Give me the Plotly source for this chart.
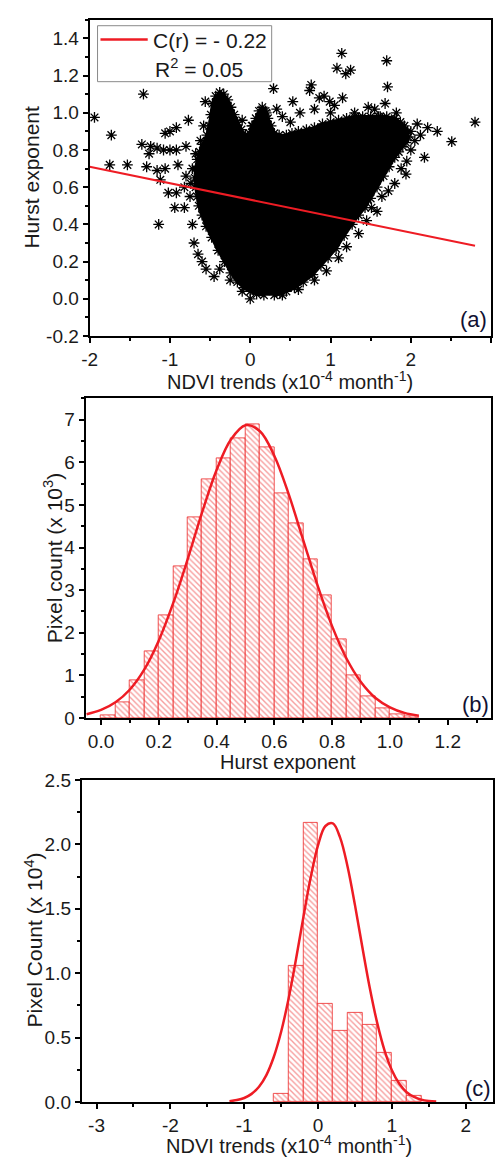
import plotly.graph_objects as go

# ---------------- Panel (a): NDVI trends vs Hurst exponent ----------------
# outline of the dense (solid black) cloud
blob_x = [0.17, 0.08, 0.0, -0.08, -0.16, -0.24, -0.32, -0.40, -0.48, -0.55, -0.60, -0.64,
          -0.66, -0.68, -0.69, -0.68, -0.66, -0.63, -0.59, -0.54, -0.51, -0.49, -0.47, -0.43,
          -0.38, -0.33, -0.28, -0.24, -0.20, -0.16, -0.11, -0.06, -0.01, 0.03, 0.07, 0.11,
          0.15, 0.19, 0.22, 0.26, 0.30, 0.36, 0.45, 0.52, 0.60, 0.70, 0.80, 0.90, 1.00, 1.10,
          1.20, 1.30, 1.40, 1.50, 1.60, 1.70, 1.80, 1.87, 1.92, 1.96, 1.97, 1.94, 1.90, 1.85,
          1.80, 1.73, 1.66, 1.58, 1.50, 1.43, 1.35, 1.27, 1.17, 1.07, 0.97, 0.88, 0.78, 0.66,
          0.55, 0.45, 0.37, 0.30]
blob_y = [0.02, 0.025, 0.04, 0.06, 0.09, 0.14, 0.20, 0.26, 0.33, 0.39, 0.45, 0.50,
          0.55, 0.60, 0.65, 0.70, 0.75, 0.79, 0.83, 0.88, 0.93, 0.99, 1.05, 1.09,
          1.11, 1.10, 1.07, 1.03, 0.99, 0.95, 0.91, 0.88, 0.89, 0.93, 0.97, 1.01,
          1.03, 1.01, 0.97, 0.93, 0.89, 0.88, 0.88, 0.89, 0.90, 0.91, 0.92, 0.94, 0.95, 0.96,
          0.97, 0.98, 0.98, 0.98, 0.98, 0.98, 0.97, 0.95, 0.93, 0.90, 0.87, 0.84, 0.82, 0.79,
          0.76, 0.71, 0.66, 0.60, 0.54, 0.49, 0.45, 0.40, 0.34, 0.27, 0.22, 0.18, 0.13, 0.09,
          0.06, 0.04, 0.03, 0.02]

# individual (sparse) points around the cloud
star_x = [-1.94, -1.73, -1.33, -1.06, -1.00, -0.92, -0.77, -1.35, -1.24, -1.16, -1.08, -1.00,
          -0.92, -0.80, -1.26, -1.75, -1.53, -1.29, -1.16, -1.06, -0.90, -1.12, -1.02, -0.92,
          -0.82, -0.94, -0.82, -1.14, -0.56, -0.80,
          -0.70, -0.65, -0.60, -0.55, -0.45, -0.72, -0.75, -0.74, -0.72, -0.68, -0.62, -0.58,
          0.29, 0.74, 0.76, 0.33, 0.53, 0.86, 0.92, 0.99, 1.15, 1.14, 1.08, 1.25, 1.19,
          1.70, 1.71, 1.47, 1.68, 1.82, 2.80, 2.51, 2.17, 1.94, 2.33, 2.21, 2.08, 1.64, 1.51,
          0.02, -0.10, 0.20, 0.40, 0.50, 0.62, 0.80, 1.00, 1.05, 1.30, 1.35, 1.55, 1.62, 1.75,
          1.90, 2.00, 2.05, 2.12, 2.00, 1.95, 1.88, 1.80, 1.72, 1.58, 1.45, 1.35, 1.20, 1.10,
          0.95, 0.80, 0.60, 0.40, 0.00, -0.10, -0.25, -0.38]
star_y = [0.975, 0.88, 1.10, 0.89, 0.90, 0.92, 0.96, 0.83, 0.82, 0.81, 0.80, 0.80,
          0.80, 0.82, 0.78, 0.72, 0.72, 0.71, 0.69, 0.70, 0.72, 0.64, 0.57, 0.57,
          0.60, 0.49, 0.49, 0.40, 1.06, 0.66,
          0.30, 0.24, 0.20, 0.16, 0.12, 0.40, 0.55, 0.62, 0.70, 0.78, 0.85, 0.93,
          1.13, 1.12, 1.15, 1.02, 1.06, 1.08, 1.09, 1.06, 1.08, 1.32, 1.24, 1.23, 1.21,
          1.28, 1.14, 1.03, 1.05, 1.00, 0.95, 0.845, 0.76, 0.67, 0.90, 0.92, 0.94, 0.55, 0.49,
          0.93, 0.96, 1.00, 0.98, 0.95, 1.00, 1.02, 1.00, 1.04, 1.00, 0.97, 1.02, 0.98, 0.95,
          0.92, 0.90, 0.85, 0.88, 0.80, 0.74, 0.70, 0.62, 0.58, 0.47, 0.42, 0.35, 0.28, 0.22,
          0.15, 0.10, 0.05, 0.02, 0.00, 0.04, 0.10, 0.16]

fit_a_x = [-2.0, 2.8]
fit_a_y = [0.71, 0.285]
legend_a_line1 = "C(r) = - 0.22"
legend_a_line2 = "R<sup>2</sup> = 0.05"

a_xticks = [-2, -1, 0, 1, 2, 3]
a_xticktext = ["-2", "-1", "0", "1", "2", "3"]
a_yticks = [-0.2, 0.0, 0.2, 0.4, 0.6, 0.8, 1.0, 1.2, 1.4]
a_yticktext = ["-0.2", "0.0", "0.2", "0.4", "0.6", "0.8", "1.0", "1.2", "1.4"]

# ---------------- Panel (b): Hurst exponent histogram (x10^3) ----------------
b_bin_centers = [0.025, 0.075, 0.125, 0.175, 0.225, 0.275, 0.325, 0.375, 0.425, 0.475, 0.525,
                 0.575, 0.625, 0.675, 0.725, 0.775, 0.825, 0.875, 0.925, 0.975, 1.025, 1.075]
b_counts = [0.07, 0.36, 0.88, 1.57, 2.42, 3.55, 4.70, 5.60, 6.10, 6.56, 6.88,
            6.36, 5.27, 4.57, 3.73, 2.87, 1.84, 0.99, 0.51, 0.22, 0.09, 0.03]
b_bin_width = 0.05
b_curve_x = [-0.05, 0.0, 0.05, 0.10, 0.15, 0.20, 0.25, 0.30, 0.35, 0.40, 0.45, 0.50, 0.55,
             0.60, 0.65, 0.70, 0.75, 0.80, 0.85, 0.90, 0.95, 1.00, 1.05, 1.10]
b_curve_y = [0.09, 0.19, 0.37, 0.67, 1.14, 1.82, 2.70, 3.73, 4.83, 5.82, 6.54, 6.87, 6.73,
             6.15, 5.24, 4.17, 3.10, 2.15, 1.39, 0.84, 0.47, 0.25, 0.12, 0.055]
b_xticks = [0.0, 0.2, 0.4, 0.6, 0.8, 1.0, 1.2]
b_xticktext = ["0.0", "0.2", "0.4", "0.6", "0.8", "1.0", "1.2"]
b_yticks = [0, 1, 2, 3, 4, 5, 6, 7]
b_yticktext = ["0", "1", "2", "3", "4", "5", "6", "7"]

# ---------------- Panel (c): NDVI trends histogram (x10^4) ----------------
c_bin_centers = [-0.5, -0.3, -0.1, 0.1, 0.3, 0.5, 0.7, 0.9, 1.1, 1.3]
c_counts = [0.06, 1.06, 2.17, 0.76, 0.55, 0.69, 0.60, 0.38, 0.16, 0.05]
c_bin_width = 0.2
c_curve_x = [-1.2, -1.1, -1.0, -0.9, -0.8, -0.7, -0.6, -0.5, -0.4, -0.3, -0.2, -0.1, 0.0,
             0.1, 0.2, 0.3, 0.4, 0.5, 0.6, 0.7, 0.8, 0.9, 1.0, 1.1, 1.2, 1.3, 1.4, 1.5, 1.6]
c_curve_y = [0.006, 0.015, 0.031, 0.063, 0.118, 0.209, 0.349, 0.545, 0.800, 1.104, 1.431,
             1.742, 1.993, 2.142, 2.162, 2.050, 1.826, 1.528, 1.201, 0.887, 0.616, 0.401,
             0.246, 0.141, 0.076, 0.039, 0.018, 0.008, 0.003]
c_xticks = [-3, -2, -1, 0, 1, 2]
c_xticktext = ["-3", "-2", "-1", "0", "1", "2"]
c_yticks = [0.0, 0.5, 1.0, 1.5, 2.0, 2.5]
c_yticktext = ["0.0", "0.5", "1.0", "1.5", "2.0", "2.5"]

FONT = "Arial, 'Liberation Sans', sans-serif"
RED = "#ee1c24"
W, H = 496, 1167


def px(x):
    return x / W


def py(y):
    return 1 - y / H


fig = go.Figure()

star_marker = dict(symbol="asterisk-open", size=9, color="black",
                   line=dict(color="black", width=1.3))

# (a)
fig.add_trace(go.Scatter(x=blob_x, y=blob_y, fill="toself", fillcolor="black",
                         mode="lines+markers", line=dict(color="black", width=3),
                         marker=star_marker, xaxis="x", yaxis="y", hoverinfo="skip"))
fig.add_trace(go.Scatter(x=star_x, y=star_y, mode="markers", marker=star_marker,
                         xaxis="x", yaxis="y"))
fig.add_trace(go.Scatter(x=fit_a_x, y=fit_a_y, mode="lines",
                         line=dict(color=RED, width=2), xaxis="x", yaxis="y"))

hatch = dict(shape="\\", fgcolor="rgba(236,40,40,0.9)", bgcolor="white", size=4, solidity=0.35)

# (b)
fig.add_trace(go.Bar(x=b_bin_centers, y=b_counts, width=[b_bin_width] * len(b_counts),
                     marker=dict(color="white", pattern=hatch,
                                 line=dict(color="rgba(236,40,40,0.8)", width=1)),
                     xaxis="x2", yaxis="y2"))
fig.add_trace(go.Scatter(x=b_curve_x, y=b_curve_y, mode="lines", line_shape="spline",
                         line=dict(color=RED, width=2.5), xaxis="x2", yaxis="y2"))

# (c)
fig.add_trace(go.Bar(x=c_bin_centers, y=c_counts, width=[c_bin_width] * len(c_counts),
                     marker=dict(color="white", pattern=hatch,
                                 line=dict(color="rgba(236,40,40,0.8)", width=1)),
                     xaxis="x3", yaxis="y3"))
fig.add_trace(go.Scatter(x=c_curve_x, y=c_curve_y, mode="lines", line_shape="spline",
                         line=dict(color=RED, width=2.5), xaxis="x3", yaxis="y3"))

axis_style = dict(showline=True, linecolor="black", linewidth=2, mirror=True,
                  ticks="outside", ticklen=5, tickwidth=1.5, tickcolor="black",
                  showgrid=False, zeroline=False,
                  tickfont=dict(family=FONT, size=19, color="#1a1a1a"))


def minor(d):
    return dict(ticks="outside", ticklen=3, tickwidth=1.5, tickcolor="black", dtick=d, showgrid=False)


fig.update_layout(
    width=W, height=H, margin=dict(l=0, r=0, t=0, b=0),
    paper_bgcolor="white", plot_bgcolor="white", showlegend=False, bargap=0,
    xaxis=dict(domain=[px(83), px(491)], range=[-2, 3], anchor="y",
               tickvals=a_xticks, ticktext=a_xticktext, minor=minor(0.5), **axis_style),
    yaxis=dict(domain=[py(332), py(10)], range=[-0.2, 1.5], anchor="x",
               tickvals=a_yticks, ticktext=a_yticktext, minor=minor(0.1), **axis_style),
    xaxis2=dict(domain=[px(79), px(491)], range=[-0.053, 1.35], anchor="y2",
                tickvals=b_xticks, ticktext=b_xticktext, minor=minor(0.1), **axis_style),
    yaxis2=dict(domain=[py(721), py(395.5)], range=[0, 7.5], anchor="x2",
                tickvals=b_yticks, ticktext=b_yticktext, minor=minor(0.5), **axis_style),
    xaxis3=dict(domain=[px(75), px(493)], range=[-3.2, 2.37], anchor="y3",
                tickvals=c_xticks, ticktext=c_xticktext, minor=minor(0.5), **axis_style),
    yaxis3=dict(domain=[py(1112), py(784)], range=[0, 2.5], anchor="x3",
                tickvals=c_yticks, ticktext=c_yticktext, minor=minor(0.25), **axis_style),
)

# legend box of panel (a)
fig.add_shape(type="rect", xref="paper", yref="paper", x0=px(91), x1=px(268), y0=py(73), y1=py(16),
              line=dict(color="#8a8a8a", width=1), fillcolor="white", layer="above")
fig.add_shape(type="line", xref="paper", yref="paper", x0=px(94), x1=px(142), y0=py(30), y1=py(30),
              line=dict(color=RED, width=2.5), layer="above")

ann = []


def text(s, x, y, size, angle=0, xanchor="center", color="#1a1a1a"):
    ann.append(dict(text=s, x=px(x), y=py(y), xref="paper", yref="paper", showarrow=False,
                    xanchor=xanchor, yanchor="middle", textangle=angle,
                    font=dict(family=FONT, size=size, color=color)))


text(legend_a_line1, 145, 31, 21, xanchor="left")
text(legend_a_line2, 147, 59, 21, xanchor="left")

text("Hurst exponent", 24, 170, 21, angle=-90)
text("NDVI trends (x10<sup>-4</sup> month<sup>-1</sup>)", 287, 377, 20)
text("Pixel count (x 10<sup>3</sup>)", 46, 558, 21, angle=-90)
text("Hurst exponent", 285, 766, 20)
text("Pixel Count (x 10<sup>4</sup>)", 26, 947, 21, angle=-90)
text("NDVI trends (x10<sup>-4</sup> month<sup>-1</sup>)", 286, 1155, 20)

text("(a)", 473, 315, 22, color="#111133")
text("(b)", 475, 707, 22, color="#111133")
text("(c)", 478, 1098, 22, color="#111133")

fig.update_layout(annotations=ann)

fig.write_html("out.html")
